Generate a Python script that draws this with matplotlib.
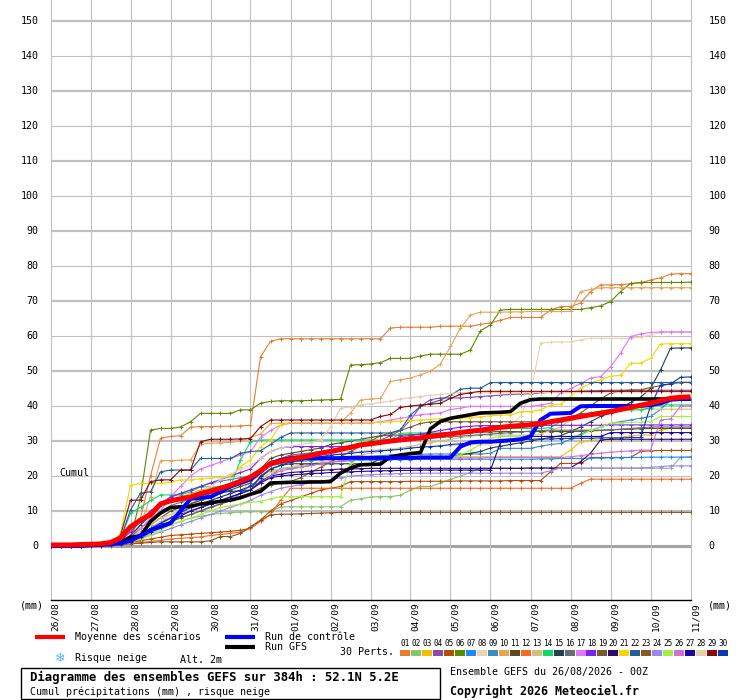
"""
GEFS ensemble diagram: cumulative precipitation (mm) over 384 h, 30 perturbed
members plus control run, GFS run and ensemble mean. Rendered with Agg to out.png.
"""

import matplotlib
matplotlib.use("Agg")
import matplotlib.pyplot as plt
from matplotlib.patches import Rectangle
from matplotlib.lines import Line2D
from matplotlib.transforms import blended_transform_factory
import numpy as np

# ---- data: one value every 6 h, 26/08 00Z -> 11/09 00Z (65 values) ----
mean_run = [
    0.3, 0.3, 0.3, 0.4, 0.5, 0.6, 1.0, 2.3, 5.5, 7.4, 8.9, 12.0, 12.9, 13.5, 14.0, 15.0,
    15.7, 16.5, 17.4, 18.5, 19.7, 21.5, 23.5, 24.2, 24.8, 25.2, 25.8, 26.5, 27.0, 27.6, 28.2, 28.9,
    29.2, 29.6, 30.0, 30.3, 30.6, 30.9, 31.3, 31.7, 32.0, 32.4, 32.8, 33.1, 33.5, 33.9, 34.2, 34.4,
    34.6, 35.0, 35.5, 36.0, 36.5, 37.0, 37.5, 37.9, 38.4, 39.0, 39.6, 40.2, 40.8, 41.5, 42.2, 42.5,
    42.6,
]
control_run = [
    0, 0, 0, 0, 0.2, 0.3, 0.5, 0.8, 1.5, 3.0, 4.5, 5.5, 6.5, 10.0, 13.5, 13.8,
    14.0, 15.5, 17.0, 18.0, 19.0, 21.2, 23.6, 24.5, 25.1, 25.1, 25.1, 25.1, 25.1, 25.1, 25.2, 25.2,
    25.2, 25.2, 25.2, 25.2, 25.2, 25.3, 25.3, 25.3, 25.3, 28.4, 29.6, 29.8, 29.8, 30.0, 30.2, 30.5,
    31.3, 36.0, 37.8, 37.9, 38.0, 39.9, 40.0, 40.0, 40.0, 40.0, 40.0, 40.0, 40.3, 40.8, 41.8, 42.0,
    42.0,
]
gfs_run = [
    0.2, 0.2, 0.3, 0.4, 0.5, 0.6, 0.8, 1.2, 2.5, 2.8, 7.0, 9.4, 11.0, 11.2, 11.3, 12.0,
    12.3, 12.8, 13.1, 13.8, 14.8, 15.6, 18.0, 18.1, 18.2, 18.2, 18.3, 18.3, 18.4, 20.8, 22.3, 23.2,
    23.3, 23.4, 25.5, 26.0, 26.4, 26.7, 33.5, 35.6, 36.5, 37.0, 37.5, 38.0, 38.1, 38.2, 38.4, 40.8,
    41.8, 42.0, 42.0, 42.0, 42.0, 42.0, 42.0, 42.0, 42.0, 42.0, 42.0, 42.0, 42.0, 42.0, 42.0, 42.0,
    42.0,
]

pert_01 = [
    0, 0, 0, 0, 0, 0.2, 0.5, 1.0, 3.0, 8.0, 20.0, 30.8, 31.3, 31.5, 34.0, 34.1,
    34.1, 34.2, 34.2, 34.3, 34.5, 54.0, 58.5, 59.2, 59.2, 59.2, 59.2, 59.2, 59.2, 59.2, 59.2, 59.2,
    59.2, 59.2, 62.3, 62.5, 62.5, 62.5, 62.5, 62.8, 62.8, 62.8, 62.8, 63.3, 63.8, 64.5, 65.3, 65.3,
    65.3, 65.3, 67.4, 68.4, 68.4, 69.4, 72.7, 74.6, 74.6, 74.7, 74.9, 75.2, 76.0, 76.6, 77.7, 77.8,
    77.8,
]
pert_02 = [
    0, 0, 0, 0, 0, 0, 0.2, 0.5, 1.0, 2.0, 3.5, 5.0, 6.0, 7.0, 8.0, 8.5,
    9.0, 9.3, 9.5, 9.7, 9.8, 9.8, 9.8, 11.2, 11.2, 11.2, 11.2, 11.2, 11.2, 11.2, 13.1, 13.5,
    14.0, 14.1, 14.1, 14.5, 16.0, 17.0, 17.0, 18.0, 19.0, 20.0, 21.0, 22.2, 22.2, 22.2, 22.2, 22.2,
    22.2, 22.2, 22.2, 22.2, 22.2, 22.2, 22.2, 22.2, 22.2, 22.2, 22.2, 22.2, 22.2, 22.2, 22.2, 25.3,
    25.5,
]
pert_03 = [
    0, 0, 0, 0, 0, 0.2, 0.6, 2.0, 5.0, 8.0, 10.0, 12.0, 13.0, 14.0, 15.0, 16.0,
    16.5, 17.0, 17.5, 18.0, 18.5, 20.0, 21.5, 22.0, 22.5, 23.0, 23.3, 23.6, 23.9, 24.2, 24.5, 24.7,
    24.9, 25.0, 25.1, 25.2, 25.3, 25.4, 25.5, 25.5, 25.5, 25.5, 25.5, 25.5, 25.5, 25.5, 25.5, 25.5,
    25.5, 25.5, 25.5, 25.5, 27.4, 29.8, 30.3, 30.3, 30.3, 31.0, 31.5, 31.7, 31.7, 33.1, 33.6, 33.6,
    33.6,
]
pert_04 = [
    0, 0, 0, 0, 0, 0.1, 0.3, 0.6, 1.0, 2.0, 4.0, 6.0, 8.0, 10.0, 12.0, 13.5,
    15.0, 16.0, 17.0, 18.0, 19.0, 21.0, 24.0, 25.0, 26.0, 26.3, 26.6, 27.0, 27.0, 27.5, 28.0, 28.5,
    29.0, 30.3, 31.5, 33.0, 36.0, 39.9, 41.8, 42.3, 42.3, 42.3, 42.5, 42.7, 42.9, 43.1, 43.3, 43.4,
    43.5, 43.7, 43.9, 44.0, 44.1, 44.2, 44.3, 44.4, 44.5, 44.5, 44.5, 44.5, 44.5, 44.5, 44.5, 44.5,
    44.5,
]
pert_05 = [
    0, 0, 0, 0, 0, 0, 0.2, 0.5, 1.0, 1.5, 2.0, 2.5, 3.0, 3.2, 3.4, 3.6,
    3.8, 4.0, 4.2, 4.5, 5.0, 7.4, 10.0, 12.0, 13.0, 14.0, 15.0, 16.0, 16.5, 17.0, 18.4, 18.4,
    18.4, 18.4, 18.4, 18.4, 18.5, 18.5, 18.5, 18.5, 18.5, 18.6, 18.6, 18.6, 18.6, 18.6, 18.7, 18.7,
    18.7, 18.7, 21.2, 23.6, 23.6, 23.6, 25.3, 25.3, 25.3, 25.3, 25.3, 27.0, 27.2, 27.3, 27.3, 27.3,
    27.3,
]
pert_06 = [
    0, 0, 0, 0, 0, 0.2, 0.4, 0.8, 1.7, 14.0, 33.1, 33.6, 33.6, 34.0, 35.5, 37.9,
    37.9, 37.9, 37.9, 38.9, 38.9, 40.8, 41.3, 41.5, 41.5, 41.5, 41.6, 41.7, 41.8, 41.9, 51.7, 51.8,
    52.0, 52.4, 53.6, 53.6, 53.6, 54.3, 54.8, 54.8, 54.8, 54.8, 56.0, 61.5, 63.2, 67.4, 67.6, 67.6,
    67.6, 67.6, 67.6, 67.6, 67.6, 67.6, 68.1, 68.6, 69.8, 72.7, 75.0, 75.3, 75.3, 75.3, 75.3, 75.3,
    75.4,
]
pert_07 = [
    0, 0, 0, 0, 0, 0.1, 0.3, 0.8, 2.0, 3.5, 5.0, 6.0, 7.0, 8.0, 9.0, 10.0,
    11.2, 12.0, 13.0, 15.0, 17.4, 18.0, 20.0, 22.2, 22.2, 22.5, 23.0, 23.5, 24.0, 24.2, 24.4, 24.5,
    24.6, 24.6, 24.7, 24.7, 24.7, 24.8, 24.8, 24.8, 24.8, 24.8, 24.8, 24.8, 24.8, 24.8, 24.8, 24.8,
    24.8, 24.9, 24.9, 25.0, 25.0, 25.0, 25.1, 25.1, 25.2, 25.2, 25.3, 25.3, 25.4, 25.4, 25.4, 25.4,
    25.4,
]
pert_08 = [
    0, 0, 0, 0, 0, 0.1, 0.3, 0.6, 1.2, 2.5, 4.0, 6.0, 8.0, 9.0, 10.0, 11.0,
    12.0, 13.0, 14.5, 16.0, 18.0, 21.0, 24.0, 25.0, 25.5, 25.8, 26.0, 26.2, 26.5, 26.8, 27.0, 27.2,
    27.4, 27.6, 27.8, 28.0, 28.2, 28.4, 28.5, 28.6, 28.7, 28.8, 28.9, 28.9, 28.9, 31.3, 34.6, 37.0,
    43.6, 58.0, 58.2, 58.3, 58.3, 58.9, 59.3, 59.3, 59.3, 59.3, 59.3, 59.7, 60.3, 61.0, 61.0, 61.0,
    61.0,
]
pert_09 = [
    0, 0, 0, 0, 0, 0.2, 0.5, 1.2, 3.0, 6.0, 9.0, 12.0, 14.0, 15.0, 16.0, 17.0,
    18.0, 18.5, 19.0, 19.5, 20.0, 21.5, 23.0, 23.5, 24.0, 24.2, 24.4, 24.6, 24.8, 25.0, 25.2, 25.4,
    25.6, 25.8, 26.0, 26.1, 26.2, 26.2, 26.3, 26.3, 26.3, 26.3, 26.3, 26.3, 26.5, 27.9, 27.9, 27.9,
    27.9, 28.5, 29.0, 29.3, 30.5, 32.0, 33.0, 34.0, 35.0, 35.5, 36.0, 36.5, 37.0, 39.0, 41.6, 41.7,
    41.7,
]
pert_10 = [
    0, 0, 0, 0, 0, 0.2, 0.5, 1.0, 2.0, 6.0, 14.0, 24.4, 24.4, 24.5, 24.6, 29.0,
    29.4, 29.5, 29.6, 30.0, 31.0, 32.0, 35.0, 35.1, 35.1, 35.1, 35.1, 35.2, 35.2, 35.2, 38.0, 41.7,
    42.0, 42.2, 47.0, 47.5, 48.0, 48.9, 50.0, 52.0, 57.0, 62.3, 66.0, 66.8, 66.8, 66.8, 66.9, 66.9,
    67.0, 67.0, 67.0, 67.0, 67.0, 72.7, 73.3, 73.8, 73.8, 73.8, 73.8, 73.8, 73.8, 73.8, 73.8, 73.8,
    73.8,
]
pert_11 = [
    0, 0, 0, 0, 0, 0.2, 0.4, 0.8, 2.0, 4.0, 6.0, 8.0, 10.0, 11.0, 12.0, 13.0,
    14.0, 15.0, 16.0, 17.0, 18.0, 22.0, 25.0, 26.0, 26.5, 27.0, 27.5, 28.0, 29.0, 29.5, 30.0, 30.5,
    31.0, 31.5, 31.7, 31.7, 31.8, 31.9, 32.0, 32.1, 32.2, 32.3, 32.4, 32.5, 32.6, 32.7, 32.7, 32.7,
    32.7, 32.7, 32.7, 32.7, 32.7, 32.8, 32.9, 33.0, 33.2, 33.3, 33.4, 33.5, 33.6, 33.6, 33.6, 33.6,
    33.6,
]
pert_12 = [
    0, 0, 0, 0, 0, 0, 0.2, 0.4, 0.8, 1.0, 1.3, 1.6, 2.0, 2.2, 2.4, 2.6,
    3.0, 3.3, 3.6, 4.0, 5.0, 7.0, 8.9, 13.1, 16.5, 16.5, 16.5, 16.5, 16.5, 16.5, 16.5, 16.5,
    16.5, 16.5, 16.5, 16.5, 16.5, 16.5, 16.5, 16.5, 16.5, 16.5, 16.5, 16.5, 16.5, 16.5, 16.5, 16.5,
    16.5, 16.5, 16.5, 16.5, 16.5, 17.9, 19.1, 19.1, 19.1, 19.1, 19.1, 19.1, 19.1, 19.1, 19.1, 19.1,
    19.1,
]
pert_13 = [
    0, 0, 0, 0, 0, 0.1, 0.3, 0.8, 2.0, 4.0, 6.0, 8.0, 9.0, 10.0, 11.0, 12.0,
    13.0, 14.0, 15.0, 16.0, 17.0, 19.0, 21.0, 22.0, 22.5, 23.0, 23.5, 24.0, 24.5, 25.0, 25.5, 26.0,
    26.5, 27.0, 27.5, 28.0, 28.5, 29.0, 29.5, 30.0, 30.5, 31.0, 31.3, 31.7, 31.7, 31.7, 31.7, 31.7,
    31.7, 32.0, 33.0, 34.0, 36.0, 37.0, 38.0, 38.5, 39.1, 39.1, 39.1, 39.1, 39.1, 39.1, 39.1, 39.1,
    39.1,
]
pert_14 = [
    0, 0, 0, 0, 0, 0.2, 0.5, 2.0, 9.4, 11.0, 13.0, 14.6, 14.6, 14.6, 15.5, 16.9,
    16.9, 16.9, 16.9, 24.6, 29.8, 30.3, 30.3, 30.3, 30.3, 30.3, 30.3, 30.3, 30.3, 30.3, 30.3, 30.3,
    30.3, 30.3, 30.3, 32.2, 32.3, 32.3, 32.3, 32.3, 32.3, 32.3, 32.3, 33.3, 33.6, 33.6, 33.6, 33.6,
    33.6, 33.6, 33.8, 35.5, 37.0, 37.5, 38.0, 38.5, 38.9, 38.9, 38.9, 38.9, 39.5, 40.3, 40.3, 40.3,
    40.3,
]
pert_15 = [
    0, 0, 0, 0, 0, 0.2, 0.4, 1.0, 3.0, 6.0, 9.0, 12.0, 13.0, 13.5, 14.0, 14.5,
    15.0, 15.3, 15.6, 15.8, 16.0, 20.0, 22.0, 23.0, 23.5, 23.5, 23.5, 23.5, 23.5, 23.5, 23.5, 23.5,
    23.5, 25.0, 25.0, 25.0, 25.0, 25.0, 25.0, 25.0, 25.5, 26.0, 26.5, 27.0, 28.0, 28.5, 29.0, 29.5,
    30.0, 30.5, 31.0, 31.5, 32.7, 34.0, 35.5, 37.0, 38.0, 39.5, 41.0, 42.5, 45.0, 50.3, 56.5, 56.6,
    56.6,
]
pert_16 = [
    0, 0, 0, 0, 0, 0.2, 0.4, 1.0, 2.5, 5.0, 7.5, 10.0, 11.5, 12.5, 13.5, 14.5,
    15.5, 16.5, 17.5, 18.5, 19.5, 22.0, 24.0, 25.0, 25.5, 26.0, 26.5, 27.0, 27.5, 28.0, 28.5, 29.0,
    29.5, 29.8, 30.0, 30.2, 30.4, 30.6, 30.8, 31.0, 31.2, 31.4, 31.6, 31.8, 32.0, 32.2, 32.4, 32.6,
    32.8, 33.0, 33.1, 33.1, 33.1, 33.1, 33.1, 33.1, 33.2, 33.4, 33.6, 33.8, 34.0, 34.0, 34.0, 34.0,
    34.0,
]
pert_17 = [
    0, 0, 0, 0, 0, 0.1, 0.3, 0.8, 2.0, 5.0, 8.0, 10.0, 14.0, 17.0, 20.0, 22.0,
    23.0, 24.0, 25.0, 26.0, 27.0, 31.0, 33.0, 34.5, 35.1, 35.1, 35.1, 35.1, 35.1, 35.1, 35.1, 35.1,
    35.1, 35.5, 36.0, 36.5, 37.0, 37.5, 37.8, 38.0, 39.0, 39.4, 39.9, 39.9, 39.9, 39.9, 39.9, 39.9,
    39.9, 40.3, 40.8, 43.7, 45.0, 46.3, 48.0, 48.4, 51.2, 55.1, 59.8, 60.6, 61.0, 61.2, 61.2, 61.2,
    61.2,
]
pert_18 = [
    0, 0, 0, 0, 0, 0.2, 0.5, 1.5, 4.0, 7.0, 10.0, 12.0, 14.0, 15.0, 16.0, 17.0,
    18.0, 19.0, 20.0, 21.0, 22.0, 25.0, 27.0, 28.0, 28.4, 28.4, 28.4, 28.4, 28.4, 28.4, 28.5, 28.6,
    29.0, 29.5, 30.0, 31.3, 31.5, 32.0, 32.5, 33.0, 33.5, 34.0, 34.2, 34.4, 34.4, 34.4, 34.4, 34.4,
    34.4, 34.4, 34.5, 34.5, 34.5, 34.5, 34.5, 34.5, 34.6, 34.6, 34.6, 34.6, 34.6, 34.6, 34.6, 34.6,
    34.6,
]
pert_19 = [
    0, 0, 0, 0, 0, 0.1, 0.3, 0.6, 1.5, 3.0, 4.5, 6.0, 7.0, 8.0, 9.0, 10.0,
    11.0, 12.0, 13.0, 14.0, 15.0, 16.5, 17.5, 18.0, 18.4, 19.5, 21.0, 22.5, 24.0, 25.5, 27.0, 28.5,
    30.0, 31.5, 32.3, 33.0, 34.0, 35.0, 35.5, 35.5, 35.5, 35.5, 35.5, 35.5, 35.5, 35.5, 35.5, 35.5,
    35.5, 35.5, 35.6, 35.8, 36.5, 38.0, 40.0, 42.0, 43.7, 44.3, 44.6, 44.6, 45.3, 45.8, 46.3, 46.7,
    46.7,
]
pert_20 = [
    0, 0, 0, 0, 0, 0.1, 0.3, 0.7, 1.5, 3.0, 5.0, 6.5, 8.0, 9.0, 10.0, 11.0,
    12.0, 13.0, 14.0, 15.0, 16.0, 18.5, 20.0, 20.5, 21.0, 21.2, 21.4, 21.6, 21.8, 22.0, 22.0, 22.1,
    22.2, 22.2, 22.2, 22.2, 22.2, 22.2, 22.2, 22.2, 22.2, 22.2, 22.2, 22.2, 22.2, 22.2, 22.2, 22.2,
    22.3, 22.3, 22.3, 22.3, 22.3, 24.1, 26.5, 30.3, 30.5, 30.5, 30.5, 30.5, 30.5, 30.5, 30.5, 30.5,
    30.5,
]
pert_21 = [
    0, 0, 0, 0, 0.2, 0.3, 0.5, 3.6, 17.4, 17.9, 17.9, 17.9, 18.2, 18.9, 18.9, 19.2,
    19.4, 19.6, 19.8, 22.7, 24.6, 28.4, 30.3, 34.6, 35.3, 35.3, 35.3, 35.3, 35.3, 35.3, 35.3, 35.3,
    35.3, 35.3, 35.5, 35.7, 35.8, 36.0, 36.2, 36.4, 36.5, 36.6, 36.7, 36.9, 37.2, 37.4, 37.4, 38.4,
    38.4, 38.9, 40.3, 40.5, 42.7, 45.1, 46.5, 47.5, 48.5, 48.8, 52.2, 52.3, 53.6, 57.7, 57.8, 57.8,
    57.8,
]
pert_22 = [
    0, 0, 0, 0, 0.3, 0.5, 0.8, 2.0, 10.3, 15.1, 15.5, 21.2, 21.7, 21.7, 21.7, 25.0,
    25.0, 25.0, 25.0, 26.5, 27.0, 27.2, 29.0, 31.0, 32.3, 32.3, 32.3, 32.3, 32.3, 32.3, 32.3, 32.3,
    32.3, 32.3, 32.3, 33.2, 37.4, 39.9, 40.8, 41.7, 43.1, 44.8, 45.1, 45.1, 46.7, 46.7, 46.7, 46.7,
    46.7, 46.7, 46.7, 46.7, 46.7, 46.7, 46.7, 46.7, 46.7, 46.7, 46.7, 46.7, 46.7, 46.7, 46.7, 46.8,
    46.8,
]
pert_23 = [
    0, 0, 0, 0, 0, 0, 0.1, 0.3, 0.6, 0.8, 1.0, 1.2, 1.2, 1.2, 1.2, 1.2,
    1.5, 2.7, 2.7, 3.6, 5.5, 7.4, 8.9, 9.1, 9.1, 9.2, 9.3, 9.4, 9.5, 9.6, 9.6, 9.6,
    9.6, 9.6, 9.6, 9.6, 9.6, 9.6, 9.6, 9.6, 9.6, 9.6, 9.6, 9.6, 9.6, 9.6, 9.6, 9.6,
    9.6, 9.6, 9.6, 9.6, 9.6, 9.6, 9.6, 9.6, 9.6, 9.6, 9.6, 9.6, 9.6, 9.6, 9.6, 9.6,
    9.6,
]
pert_24 = [
    0, 0, 0, 0, 0, 0.1, 0.2, 0.5, 1.0, 2.0, 3.0, 4.0, 5.0, 6.0, 7.0, 8.0,
    9.0, 10.0, 11.0, 12.0, 13.0, 14.5, 15.5, 16.5, 17.0, 17.5, 18.0, 18.5, 19.0, 19.5, 20.0, 20.2,
    20.4, 20.5, 20.6, 20.7, 20.8, 20.8, 20.8, 20.8, 20.8, 20.8, 20.8, 20.8, 20.8, 20.8, 20.8, 20.8,
    20.8, 20.8, 21.5, 22.3, 22.3, 22.3, 22.3, 22.3, 22.3, 22.3, 22.3, 22.3, 22.5, 22.7, 22.9, 22.9,
    22.9,
]
pert_25 = [
    0, 0, 0, 0, 0, 0, 0.2, 0.5, 1.0, 2.0, 3.0, 4.5, 6.0, 7.0, 8.0, 9.0,
    10.0, 11.0, 11.5, 12.0, 12.5, 12.7, 13.5, 14.1, 14.1, 14.1, 14.1, 14.1, 14.1, 14.1, 23.6, 25.0,
    25.3, 25.3, 25.3, 25.3, 25.3, 25.3, 25.3, 25.3, 25.3, 26.0, 27.4, 29.0, 30.8, 31.3, 31.3, 31.3,
    31.3, 31.3, 31.3, 31.3, 31.3, 31.5, 33.1, 34.0, 35.1, 35.2, 35.3, 35.4, 35.5, 37.0, 37.0, 37.0,
    37.0,
]
pert_26 = [
    0, 0, 0, 0, 0, 0.1, 0.3, 0.6, 1.5, 3.0, 5.0, 7.0, 8.0, 9.0, 10.0, 11.0,
    12.0, 13.0, 14.0, 15.0, 16.0, 18.0, 20.0, 21.5, 22.0, 22.5, 23.0, 23.5, 24.0, 24.3, 24.6, 24.8,
    25.0, 25.0, 25.0, 25.0, 25.1, 25.1, 25.1, 25.1, 25.2, 25.2, 25.2, 25.2, 25.3, 25.3, 25.3, 25.3,
    25.3, 25.3, 25.3, 25.3, 25.5, 25.8, 26.2, 26.5, 26.8, 27.0, 27.2, 27.4, 27.4, 36.0, 36.3, 39.9,
    40.0,
]
pert_27 = [
    0, 0, 0, 0, 0, 0.1, 0.3, 0.6, 1.2, 2.5, 4.0, 5.5, 7.0, 8.5, 10.0, 11.0,
    12.0, 13.0, 14.0, 15.0, 16.0, 18.0, 19.5, 20.0, 20.3, 20.5, 20.7, 20.8, 21.0, 21.1, 21.2, 21.3,
    21.4, 21.5, 21.5, 21.6, 21.6, 21.7, 21.7, 21.7, 21.7, 21.7, 21.7, 21.7, 21.7, 29.6, 30.0, 30.5,
    31.3, 31.3, 31.3, 31.3, 31.3, 31.3, 31.3, 31.3, 32.4, 32.4, 32.4, 32.4, 32.4, 32.4, 32.4, 32.4,
    32.4,
]
pert_28 = [
    0, 0, 0, 0, 0, 0.1, 0.3, 0.7, 2.0, 3.5, 5.0, 7.0, 9.0, 11.0, 13.0, 15.0,
    17.0, 19.0, 20.5, 22.0, 23.0, 25.0, 27.0, 28.0, 28.5, 29.0, 29.5, 30.3, 34.0, 39.3, 39.8, 40.3,
    40.6, 41.0, 41.4, 42.0, 42.4, 42.7, 43.0, 43.3, 43.6, 43.8, 43.8, 43.8, 43.8, 43.8, 43.8, 43.8,
    43.8, 43.8, 43.9, 43.9, 43.9, 43.9, 43.9, 43.9, 44.0, 44.0, 44.0, 44.0, 44.0, 44.0, 44.0, 44.0,
    44.0,
]
pert_29 = [
    0, 0, 0, 0, 0.2, 0.4, 0.6, 3.0, 13.1, 13.1, 18.4, 18.9, 18.9, 21.7, 21.7, 29.8,
    30.5, 30.5, 30.5, 30.6, 30.7, 34.1, 36.0, 36.0, 36.0, 36.0, 36.0, 36.0, 36.0, 36.0, 36.0, 36.0,
    36.0, 37.0, 37.6, 39.6, 40.0, 40.3, 40.5, 40.8, 42.2, 43.3, 43.8, 44.2, 44.2, 44.2, 44.2, 44.2,
    44.2, 44.2, 44.2, 44.2, 44.2, 44.2, 44.2, 44.2, 44.2, 44.2, 44.2, 44.2, 44.2, 44.2, 44.2, 44.2,
    44.2,
]
pert_30 = [
    0, 0, 0, 0, 0, 0.1, 0.3, 0.7, 1.5, 3.0, 5.0, 6.5, 8.0, 9.5, 11.0, 12.0,
    13.0, 14.0, 15.0, 16.0, 17.0, 19.5, 22.0, 23.0, 24.0, 24.5, 25.0, 25.5, 26.0, 26.2, 26.5, 26.8,
    27.0, 27.2, 27.4, 27.6, 28.0, 28.2, 28.4, 28.6, 29.0, 29.2, 29.4, 29.6, 30.0, 30.1, 30.2, 30.3,
    30.5, 30.6, 30.6, 30.7, 30.8, 30.8, 30.8, 30.9, 30.9, 30.9, 31.0, 31.0, 40.0, 46.0, 46.3, 48.2,
    48.3,
]

member_colors = [
    "#e67d32", "#88c46c", "#f0c000", "#8b4ca8", "#b04e0a", "#5a8a00", "#1e88ff", "#e8d5b0",
    "#3a8cbc", "#e8a452", "#604a1c", "#f86820", "#d2c07c", "#10d860", "#264050", "#646e76",
    "#e076f8", "#7c22f0", "#7c5a30", "#300870", "#f0d800", "#225e98", "#8c5820", "#9c88ec",
    "#a0f040", "#d070d4", "#1c08a0", "#e0ceac", "#880808", "#0838b8",
]
day_labels = ["26/08", "27/08", "28/08", "29/08", "30/08", "31/08", "01/09", "02/09", "03/09",
              "04/09", "05/09", "06/09", "07/09", "08/09", "09/09", "10/09", "11/09"]
y_ticks = list(range(0, 151, 10))

perts = [pert_01, pert_02, pert_03, pert_04, pert_05, pert_06, pert_07, pert_08, pert_09, pert_10,
         pert_11, pert_12, pert_13, pert_14, pert_15, pert_16, pert_17, pert_18, pert_19, pert_20,
         pert_21, pert_22, pert_23, pert_24, pert_25, pert_26, pert_27, pert_28, pert_29, pert_30]

# ---- layout helpers (work in image pixels, 740 x 700) ----
W, H = 740, 700
plt.rcParams["font.family"] = ["DejaVu Sans Mono", "DejaVu Sans"]
FS = 7.2


def fx(px):
    return px / W


def fy(py):
    return 1 - py / H


fig = plt.figure(figsize=(W / 100, H / 100), dpi=100)
ax = fig.add_axes([fx(50.5), fy(600), 640 / W, 600 / H])
ax.set_xlim(0, 384)
ax.set_ylim(-15.43, 156.0)
ax.set_xticks([])
ax.set_yticks([])
for side in ("top", "left", "right"):
    ax.spines[side].set_visible(False)
ax.spines["bottom"].set_color("black")
ax.spines["bottom"].set_linewidth(1.0)

# grid: thick line every 20 mm starting at 10, thin in between, one line per day
for v in y_ticks[1:]:
    ax.axhline(v, color="#c0c0c0", lw=1.6 if v % 20 == 10 else 0.8, zorder=0)
ax.axhline(0, color="#a4a4a4", lw=2.2, zorder=0)
for d in range(len(day_labels)):
    ax.axvline(d * 24, color="#c0c0c0", lw=0.8, zorder=0, clip_on=False)

hours = np.arange(len(mean_run)) * 6
for vals, col in zip(perts, member_colors):
    assert len(vals) == len(hours)
    ax.plot(hours, vals, color=col, lw=0.8, marker="+", ms=3.5, mew=0.7, zorder=2)
ax.plot(hours, gfs_run, color="black", lw=2.6, zorder=3, solid_capstyle="butt")
ax.plot(hours, control_run, color="#0000ff", lw=2.9, zorder=4, solid_capstyle="butt")
ax.plot(hours, mean_run, color="#ff0000", lw=3.6, zorder=5, solid_capstyle="butt")

# y labels on both sides
tr = blended_transform_factory(ax.transAxes, ax.transData)
for v in y_ticks:
    ax.text(-0.019, v, str(v), transform=tr, ha="right", va="center", fontsize=FS)
    ax.text(1.028, v, str(v), transform=tr, ha="left", va="center", fontsize=FS)
fig.text(fx(20), fy(606), "(mm)", ha="left", va="center", fontsize=FS)
fig.text(fx(708), fy(606), "(mm)", ha="left", va="center", fontsize=FS)
fig.text(fx(59), fy(473), "Cumul", ha="left", va="center", fontsize=FS)

# rotated date labels under each day line
for k, lab in enumerate(day_labels):
    fig.text(fx(50.5 + 40 * k + 5), fy(602), lab, rotation=90, ha="center", va="top", fontsize=6.8)

# ---- legend under the chart ----
def bar(x0, x1, y, color, lw):
    fig.add_artist(Line2D([fx(x0), fx(x1)], [fy(y), fy(y)], color=color, lw=lw,
                          transform=fig.transFigure, solid_capstyle="butt"))


bar(35, 65, 637, "#ff0000", 3.0)
fig.text(fx(75), fy(637), "Moyenne des scénarios", va="center", fontsize=FS)
bar(225, 255, 637, "#0000ff", 3.0)
fig.text(fx(265), fy(637), "Run de contrôle", va="center", fontsize=FS)
bar(225, 255, 647, "black", 3.0)
fig.text(fx(265), fy(647), "Run GFS", va="center", fontsize=FS)
fig.text(fx(60), fy(658), "\u2744", ha="center", va="center", fontsize=9,
         color="#5ab4e8", family="DejaVu Sans")
fig.text(fx(75), fy(658), "Risque neige", va="center", fontsize=FS)
fig.text(fx(180), fy(660), "Alt. 2m", va="center", fontsize=FS)
fig.text(fx(340), fy(652), "30 Perts.", va="center", fontsize=FS)

for k, col in enumerate(member_colors):
    x0 = 400 + 10.97 * k
    fig.text(fx(x0 + 5), fy(643.5), "%02d" % (k + 1), ha="center", va="center", fontsize=5.6)
    fig.add_artist(Rectangle((fx(x0), fy(656)), 10 / W, 6.5 / H, transform=fig.transFigure,
                             facecolor=col, edgecolor="none"))

fig.add_artist(Rectangle((fx(20.5), fy(699)), 419.5 / W, 31.5 / H, transform=fig.transFigure,
                         fill=False, edgecolor="black", lw=1.0))
fig.text(fx(30), fy(677.5), "Diagramme des ensembles GEFS sur 384h : 52.1N 5.2E",
         va="center", fontsize=8.8, weight="bold")
fig.text(fx(30), fy(691.5), "Cumul précipitations (mm) , risque neige", va="center", fontsize=FS)
fig.text(fx(450), fy(672), "Ensemble GEFS du 26/08/2026 - 00Z", va="center", fontsize=FS)
fig.text(fx(450), fy(691.5), "Copyright 2026 Meteociel.fr", va="center", fontsize=8.4, weight="bold")

fig.savefig("out.png", dpi=100)
plt.close(fig)
